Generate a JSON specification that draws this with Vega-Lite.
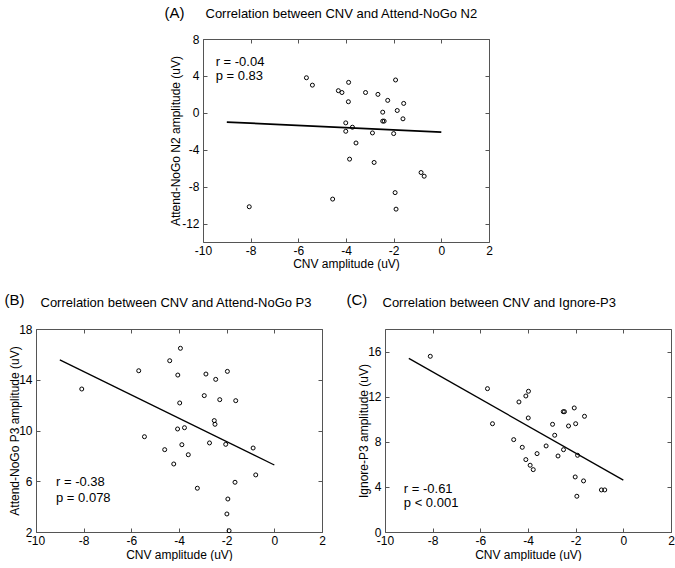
{
  "$schema": "https://vega.github.io/schema/vega-lite/v6.json",
  "padding": {"left": 3, "top": 4, "right": 0, "bottom": 0},
  "config": {
    "font": "Liberation Sans",
    "view": {"stroke": "#555"},
    "axis": {"labelFontSize": 12, "titleFontSize": 12, "titleFontWeight": "normal", "labelColor": "#000", "titleColor": "#000", "tickColor": "#555", "grid": false, "domain": false, "labelFlush": false, "labelOverlap": false}
  },
  "datasets": {
    "a_pts": [
      {"x": -5.66, "y": 3.8}, {"x": -5.41, "y": 3.0}, {"x": -3.89, "y": 3.3}, {"x": -4.32, "y": 2.4}, {"x": -4.17, "y": 2.2},
      {"x": -3.9, "y": 1.2}, {"x": -3.18, "y": 2.2}, {"x": -2.66, "y": 2.0}, {"x": -1.92, "y": 3.56}, {"x": -2.25, "y": 1.35},
      {"x": -1.58, "y": 1.02}, {"x": -2.46, "y": 0.07}, {"x": -1.85, "y": 0.25}, {"x": -1.61, "y": -0.65}, {"x": -2.46, "y": -0.9},
      {"x": -2.4, "y": -0.9}, {"x": -4.01, "y": -1.09}, {"x": -4.01, "y": -2.0}, {"x": -3.73, "y": -1.56}, {"x": -2.89, "y": -2.18},
      {"x": -2.0, "y": -2.25}, {"x": -3.58, "y": -3.27}, {"x": -3.85, "y": -5.02}, {"x": -2.82, "y": -5.38}, {"x": -0.85, "y": -6.47},
      {"x": -0.72, "y": -6.87}, {"x": -1.94, "y": -8.65}, {"x": -1.9, "y": -10.44}, {"x": -4.56, "y": -9.35}, {"x": -8.06, "y": -10.18}
    ],
    "a_line": [{"x": -9, "y": -1.0}, {"x": 0, "y": -2.1}],
    "a_txt": [{"x": -9.47, "y": 5.54, "label": "r = -0.04"}, {"x": -9.47, "y": 3.99, "label": "p = 0.83"}],
    "b_pts": [
      {"x": -8.08, "y": 13.27}, {"x": -5.69, "y": 14.71}, {"x": -5.45, "y": 9.51}, {"x": -4.39, "y": 15.5}, {"x": -3.94, "y": 16.48},
      {"x": -4.05, "y": 14.37}, {"x": -3.97, "y": 12.17}, {"x": -4.06, "y": 10.12}, {"x": -3.77, "y": 10.22}, {"x": -3.88, "y": 8.88},
      {"x": -4.6, "y": 8.49}, {"x": -3.61, "y": 8.09}, {"x": -4.22, "y": 7.36}, {"x": -3.23, "y": 5.45}, {"x": -2.87, "y": 14.45},
      {"x": -2.46, "y": 14.03}, {"x": -2.94, "y": 12.75}, {"x": -2.29, "y": 12.43}, {"x": -2.52, "y": 10.78}, {"x": -2.49, "y": 10.49},
      {"x": -2.72, "y": 9.02}, {"x": -1.97, "y": 14.66}, {"x": -1.62, "y": 12.35}, {"x": -2.04, "y": 8.91}, {"x": -0.89, "y": 8.62},
      {"x": -0.78, "y": 6.5}, {"x": -1.65, "y": 5.92}, {"x": -1.95, "y": 4.6}, {"x": -1.99, "y": 3.42}, {"x": -1.9, "y": 2.1}
    ],
    "b_line": [{"x": -9, "y": 15.56}, {"x": 0, "y": 7.28}],
    "b_txt": [{"x": -9.16, "y": 5.92, "label": "r = -0.38"}, {"x": -9.16, "y": 4.68, "label": "p = 0.078"}],
    "c_pts": [
      {"x": -8.1, "y": 15.58}, {"x": -5.7, "y": 12.71}, {"x": -5.49, "y": 9.6}, {"x": -4.38, "y": 11.53}, {"x": -4.09, "y": 12.06},
      {"x": -3.98, "y": 12.48}, {"x": -3.99, "y": 10.11}, {"x": -4.6, "y": 8.19}, {"x": -4.24, "y": 7.51}, {"x": -4.09, "y": 6.42},
      {"x": -3.91, "y": 5.92}, {"x": -3.78, "y": 5.53}, {"x": -3.62, "y": 6.95}, {"x": -3.24, "y": 7.63}, {"x": -2.97, "y": 9.55},
      {"x": -2.88, "y": 8.58}, {"x": -2.74, "y": 6.74}, {"x": -2.52, "y": 10.67}, {"x": -2.47, "y": 10.67}, {"x": -2.51, "y": 7.3},
      {"x": -2.3, "y": 9.4}, {"x": -2.06, "y": 11.0}, {"x": -2.0, "y": 9.6}, {"x": -1.63, "y": 10.26}, {"x": -1.92, "y": 6.8},
      {"x": -2.02, "y": 4.88}, {"x": -1.67, "y": 4.53}, {"x": -1.95, "y": 3.17}, {"x": -0.92, "y": 3.73}, {"x": -0.78, "y": 3.73}
    ],
    "c_line": [{"x": -9, "y": 15.4}, {"x": 0, "y": 4.6}],
    "c_txt": [{"x": -9.21, "y": 3.82, "label": "r = -0.61"}, {"x": -9.21, "y": 2.55, "label": "p < 0.001"}]
  },
  "vconcat": [
    {
      "hconcat": [
        {"width": 127, "height": 1, "data": {"values": []}, "mark": "point", "encoding": {}, "view": {"stroke": null}},
        {
          "width": 286, "height": 203,
          "resolve": {"axis": {"x": "independent", "y": "independent"}},
          "layer": [
            {
              "data": {"name": "a_pts"},
              "mark": {"type": "point", "shape": "circle", "filled": false, "size": 16, "strokeWidth": 1, "color": "#000", "opacity": 1},
              "encoding": {
                "x": {"field": "x", "type": "quantitative", "scale": {"domain": [-10, 2], "nice": false, "zero": false},
                      "axis": {"orient": "bottom", "values": [-10, -8, -6, -4, -2, 0, 2], "tickSize": -4, "labelPadding": 7, "labelExpr": "'' + datum.value", "title": "CNV amplitude (uV)", "titleY": 21, "titleBaseline": "middle"}},
                "y": {"field": "y", "type": "quantitative", "scale": {"domain": [-14, 8], "nice": false, "zero": false},
                      "axis": {"orient": "left", "values": [-12, -8, -4, 0, 4, 8], "tickSize": -4, "labelPadding": 8, "labelExpr": "'' + datum.value", "title": "Attend-NoGo N2 amplitude (uV)", "titleX": -28, "titleBaseline": "middle"}}
              }
            },
            {
              "data": {"name": "a_txt"},
              "mark": {"type": "text", "align": "left", "baseline": "middle", "fontSize": 13, "color": "#000"},
              "encoding": {
                "x": {"field": "x", "type": "quantitative", "scale": {"domain": [-10, 2], "nice": false, "zero": false}, "axis": null},
                "y": {"field": "y", "type": "quantitative", "scale": {"domain": [-14, 8], "nice": false, "zero": false}, "axis": null},
                "text": {"field": "label"}
              }
            },
            {
              "data": {"name": "a_line"},
              "mark": {"type": "line", "color": "#000", "strokeWidth": 1.8},
              "encoding": {
                "x": {"field": "x", "type": "quantitative", "scale": {"domain": [-10, 2], "nice": false, "zero": false},
                      "axis": {"orient": "top", "values": [-10, -8, -6, -4, -2, 0, 2], "tickSize": -4, "labels": false, "title": "Correlation between CNV and Attend-NoGo N2", "titleX": 2, "titleY": -26, "titleAlign": "left", "titleBaseline": "middle", "titleAngle": 0, "titleFontSize": 13}},
                "y": {"field": "y", "type": "quantitative", "scale": {"domain": [-14, 8], "nice": false, "zero": false},
                      "axis": {"orient": "right", "values": [-12, -8, -4, 0, 4, 8], "tickSize": -4, "labels": false, "title": "(A)", "titleAngle": 0, "titleX": -325, "titleY": -27, "titleAlign": "left", "titleBaseline": "middle", "titleFontSize": 15}}
              }
            }
          ]
        }
      ],
      "spacing": 0
    },
    {
      "hconcat": [
        {
          "width": 286, "height": 203,
          "resolve": {"axis": {"x": "independent", "y": "independent"}},
          "layer": [
            {
              "data": {"name": "b_pts"},
              "mark": {"type": "point", "shape": "circle", "filled": false, "size": 16, "strokeWidth": 1, "color": "#000", "opacity": 1},
              "encoding": {
                "x": {"field": "x", "type": "quantitative", "scale": {"domain": [-10, 2], "nice": false, "zero": false},
                      "axis": {"orient": "bottom", "values": [-10, -8, -6, -4, -2, 0, 2], "tickSize": -4, "labelPadding": 7, "labelExpr": "'' + datum.value", "title": "CNV amplitude (uV)", "titleY": 22, "titleBaseline": "middle"}},
                "y": {"field": "y", "type": "quantitative", "scale": {"domain": [2, 18], "nice": false, "zero": false},
                      "axis": {"orient": "left", "values": [2, 6, 10, 14, 18], "tickSize": -4, "labelPadding": 8, "labelExpr": "'' + datum.value", "title": "Attend-NoGo P3 amplitude (uV)", "titleX": -22, "titleBaseline": "middle"}}
              }
            },
            {
              "data": {"name": "b_txt"},
              "mark": {"type": "text", "align": "left", "baseline": "middle", "fontSize": 13, "color": "#000"},
              "encoding": {
                "x": {"field": "x", "type": "quantitative", "scale": {"domain": [-10, 2], "nice": false, "zero": false}, "axis": null},
                "y": {"field": "y", "type": "quantitative", "scale": {"domain": [2, 18], "nice": false, "zero": false}, "axis": null},
                "text": {"field": "label"}
              }
            },
            {
              "data": {"name": "b_line"},
              "mark": {"type": "line", "color": "#000", "strokeWidth": 1.3},
              "encoding": {
                "x": {"field": "x", "type": "quantitative", "scale": {"domain": [-10, 2], "nice": false, "zero": false},
                      "axis": {"orient": "top", "values": [-10, -8, -6, -4, -2, 0, 2], "tickSize": -4, "labels": false, "title": "Correlation between CNV and Attend-NoGo P3", "titleX": 4, "titleY": -27, "titleAlign": "left", "titleBaseline": "middle", "titleAngle": 0, "titleFontSize": 13}},
                "y": {"field": "y", "type": "quantitative", "scale": {"domain": [2, 18], "nice": false, "zero": false},
                      "axis": {"orient": "right", "values": [2, 6, 10, 14, 18], "tickSize": -4, "labels": false, "title": "(B)", "titleAngle": 0, "titleX": -318, "titleY": -30, "titleAlign": "left", "titleBaseline": "middle", "titleFontSize": 15}}
              }
            }
          ]
        },
        {
          "width": 286, "height": 203,
          "resolve": {"axis": {"x": "independent", "y": "independent"}},
          "layer": [
            {
              "data": {"name": "c_pts"},
              "mark": {"type": "point", "shape": "circle", "filled": false, "size": 16, "strokeWidth": 1, "color": "#000", "opacity": 1},
              "encoding": {
                "x": {"field": "x", "type": "quantitative", "scale": {"domain": [-10, 2], "nice": false, "zero": false},
                      "axis": {"orient": "bottom", "values": [-10, -8, -6, -4, -2, 0, 2], "tickSize": -4, "labelPadding": 7, "labelExpr": "'' + datum.value", "title": "CNV amplitude (uV)", "titleY": 22, "titleBaseline": "middle"}},
                "y": {"field": "y", "type": "quantitative", "scale": {"domain": [0, 18], "nice": false, "zero": false},
                      "axis": {"orient": "left", "values": [0, 4, 8, 12, 16], "tickSize": -4, "labelPadding": 8, "labelExpr": "'' + datum.value", "title": "Ignore-P3 amplitude (uV)", "titleX": -22, "titleBaseline": "middle"}}
              }
            },
            {
              "data": {"name": "c_txt"},
              "mark": {"type": "text", "align": "left", "baseline": "middle", "fontSize": 13, "color": "#000"},
              "encoding": {
                "x": {"field": "x", "type": "quantitative", "scale": {"domain": [-10, 2], "nice": false, "zero": false}, "axis": null},
                "y": {"field": "y", "type": "quantitative", "scale": {"domain": [0, 18], "nice": false, "zero": false}, "axis": null},
                "text": {"field": "label"}
              }
            },
            {
              "data": {"name": "c_line"},
              "mark": {"type": "line", "color": "#000", "strokeWidth": 1.3},
              "encoding": {
                "x": {"field": "x", "type": "quantitative", "scale": {"domain": [-10, 2], "nice": false, "zero": false},
                      "axis": {"orient": "top", "values": [-10, -8, -6, -4, -2, 0, 2], "tickSize": -4, "labels": false, "title": "Correlation between CNV and Ignore-P3", "titleX": -3, "titleY": -27, "titleAlign": "left", "titleBaseline": "middle", "titleAngle": 0, "titleFontSize": 13}},
                "y": {"field": "y", "type": "quantitative", "scale": {"domain": [0, 18], "nice": false, "zero": false},
                      "axis": {"orient": "right", "values": [0, 4, 8, 12, 16], "tickSize": -4, "labels": false, "title": "(C)", "titleAngle": 0, "titleX": -325, "titleY": -30, "titleAlign": "left", "titleBaseline": "middle", "titleFontSize": 15}}
              }
            }
          ]
        }
      ],
      "spacing": 19
    }
  ],
  "spacing": 21
}
